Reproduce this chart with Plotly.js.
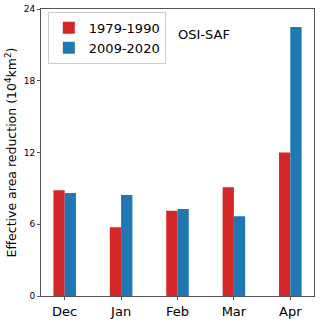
<!DOCTYPE html>
<html>
<head>
<meta charset="utf-8">
<script src="https://cdn.plot.ly/plotly-3.0.1.min.js"></script>
<style>
  html, body { margin: 0; padding: 0; background: #fff; }
  #chart { width: 320px; height: 321px; }
</style>
</head>
<body>
<div id="chart"></div>
<script>
var months = ['Dec', 'Jan', 'Feb', 'Mar', 'Apr'];
var early = [8.84, 5.74, 7.13, 9.09, 12.0];   // 1979-1990
var late = [8.61, 8.44, 7.27, 6.66, 22.5];    // 2009-2020
var yTicks = [0, 6, 12, 18, 24];

var data = [
  {x: months, y: early, type: 'bar', name: '1979-1990',
   marker: {color: '#d62728'}},
  {x: months, y: late, type: 'bar', name: '2009-2020',
   marker: {color: '#1f77b4'}}
];

var layout = {
  width: 320, height: 321,
  margin: {l: 41, r: 6, t: 9, b: 25},
  font: {family: 'DejaVu Sans', color: '#000'},
  paper_bgcolor: '#fff', plot_bgcolor: '#fff',
  barmode: 'group', bargap: 0.6, bargroupgap: 0,
  showlegend: true,
  legend: {x: 0.025, y: 0.99, xanchor: 'left', yanchor: 'top',
           bgcolor: 'rgba(255,255,255,0.8)', bordercolor: '#ccc', borderwidth: 1,
           font: {size: 13}, tracegroupgap: 2},
  xaxis: {range: [-0.42, 4.42], showline: true, mirror: true, linecolor: '#555',
          linewidth: 1, ticks: 'outside', ticklen: 3, tickcolor: '#555',
          tickfont: {size: 13}, showgrid: false, zeroline: false},
  yaxis: {range: [0, 24], tickvals: yTicks, showline: true, mirror: true,
          linecolor: '#555', linewidth: 1, ticks: 'outside', ticklen: 3,
          tickcolor: '#555', tickfont: {size: 9}, showgrid: false, zeroline: false,
          title: {text: 'Effective area reduction (10<sup>4</sup>km<sup>2</sup>)',
                  font: {size: 12.5}, standoff: 4}},
  annotations: [{text: 'OSI-SAF', xref: 'paper', yref: 'paper', x: 0.70, y: 0.945,
                 showarrow: false, font: {size: 13}}]
};

Plotly.newPlot('chart', data, layout, {displayModeBar: false, staticPlot: true});
</script>
</body>
</html>
